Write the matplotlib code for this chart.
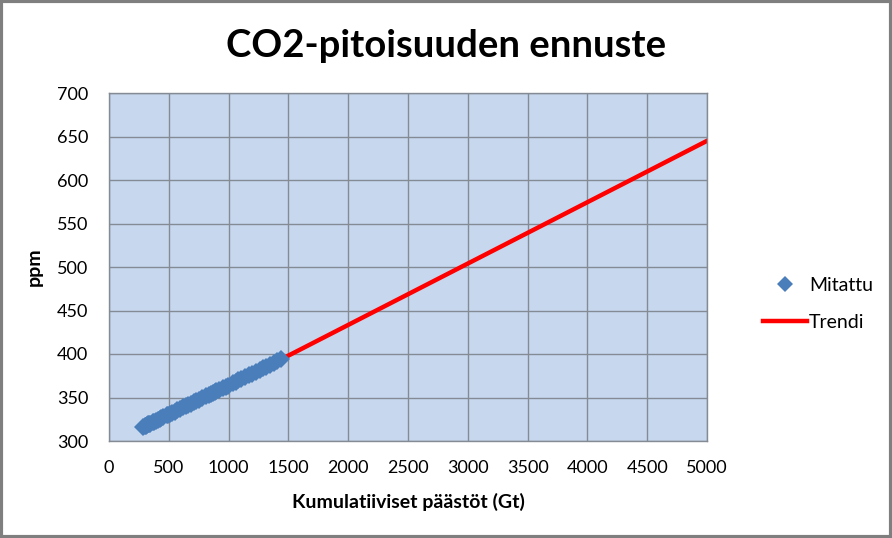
import matplotlib.pyplot as plt
from matplotlib.patches import Rectangle

# Mitattu: cumulative emissions (Gt) vs measured CO2 (ppm)
mitattu_x = [285, 299, 309, 321, 329, 338, 345, 365, 376, 389, 413, 428, 438, 455,
             488, 495, 509, 523, 549, 572, 594, 622, 642, 662, 686, 709, 731, 750,
             777, 812, 835, 854, 872, 884, 894, 919, 949, 975, 992, 1036, 1061, 1078,
             1102, 1133, 1170, 1196, 1230, 1261, 1289, 1316, 1343, 1380, 1406, 1439]
mitattu_y = [315.97, 316.91, 317.64, 318.45, 318.99, 319.62, 320.04, 321.38, 322.16,
             323.04, 324.62, 325.68, 326.32, 327.45, 329.68, 330.18, 331.11, 332.04,
             333.83, 335.40, 336.84, 338.75, 340.11, 341.45, 343.05, 344.65, 346.12,
             347.42, 349.19, 351.57, 353.12, 354.39, 355.61, 356.45, 357.10, 358.83,
             360.82, 362.61, 363.73, 366.70, 368.38, 369.55, 371.14, 373.28, 375.80,
             377.52, 379.80, 381.90, 383.79, 385.60, 387.43, 389.90, 391.65, 393.85]

# Trendi
trendi_x = [1439, 5000]
trendi_y = [393.85, 645]

x_ticks = list(range(0, 5001, 500))
y_ticks = list(range(300, 701, 50))

plt.rcParams['font.family'] = ['Lato', 'DejaVu Sans']

fig = plt.figure(figsize=(8.92, 5.38), dpi=100)
ax = fig.add_axes([109 / 892, 1 - 441 / 538, 598 / 892, 348 / 538])
ax.set_facecolor('#C6D7EE')

ax.plot(trendi_x, trendi_y, color='#FF0000', linewidth=3.2, label='Trendi', zorder=2)
ax.plot(mitattu_x, mitattu_y, linestyle='none', marker='D', markersize=9.5,
        color='#4A7EBB', markeredgewidth=0, label='Mitattu', zorder=3)

ax.set_xlim(0, 5000)
ax.set_ylim(300, 700)
ax.set_xticks(x_ticks)
ax.set_yticks(y_ticks)
ax.tick_params(length=0, labelsize=13, colors='black')
ax.tick_params(axis='x', pad=14)
ax.tick_params(axis='y', pad=15)
ax.grid(True, color='#858B94', linewidth=1.0)
ax.set_axisbelow(True)
for s in ax.spines.values():
    s.set_color('#858B94')
    s.set_linewidth(1.0)

ax.set_xlabel('Kumulatiiviset päästöt (Gt)', fontsize=14, fontweight='bold', labelpad=12)
ax.set_ylabel('ppm', fontsize=14, fontweight='bold', labelpad=10)

fig.text(0.5, 1 - 46 / 538, 'CO2-pitoisuuden ennuste', ha='center', va='center',
         fontsize=27.5, fontweight='bold')

handles, labels = ax.get_legend_handles_labels()
leg = fig.legend(handles[::-1], labels[::-1], loc='center left',
                 bbox_to_anchor=(745 / 892, 1 - 304 / 538), frameon=False,
                 fontsize=14, handlelength=2.3, labelspacing=1.0, handletextpad=0.1)
leg.legend_handles[0].set_markersize(8)

# outer chart border
fig.patches.append(Rectangle((0.0015, 0.0025), 0.997, 0.995, transform=fig.transFigure,
                             fill=False, edgecolor='#7F7F7F', linewidth=3))

fig.savefig('out.png', dpi=100)
